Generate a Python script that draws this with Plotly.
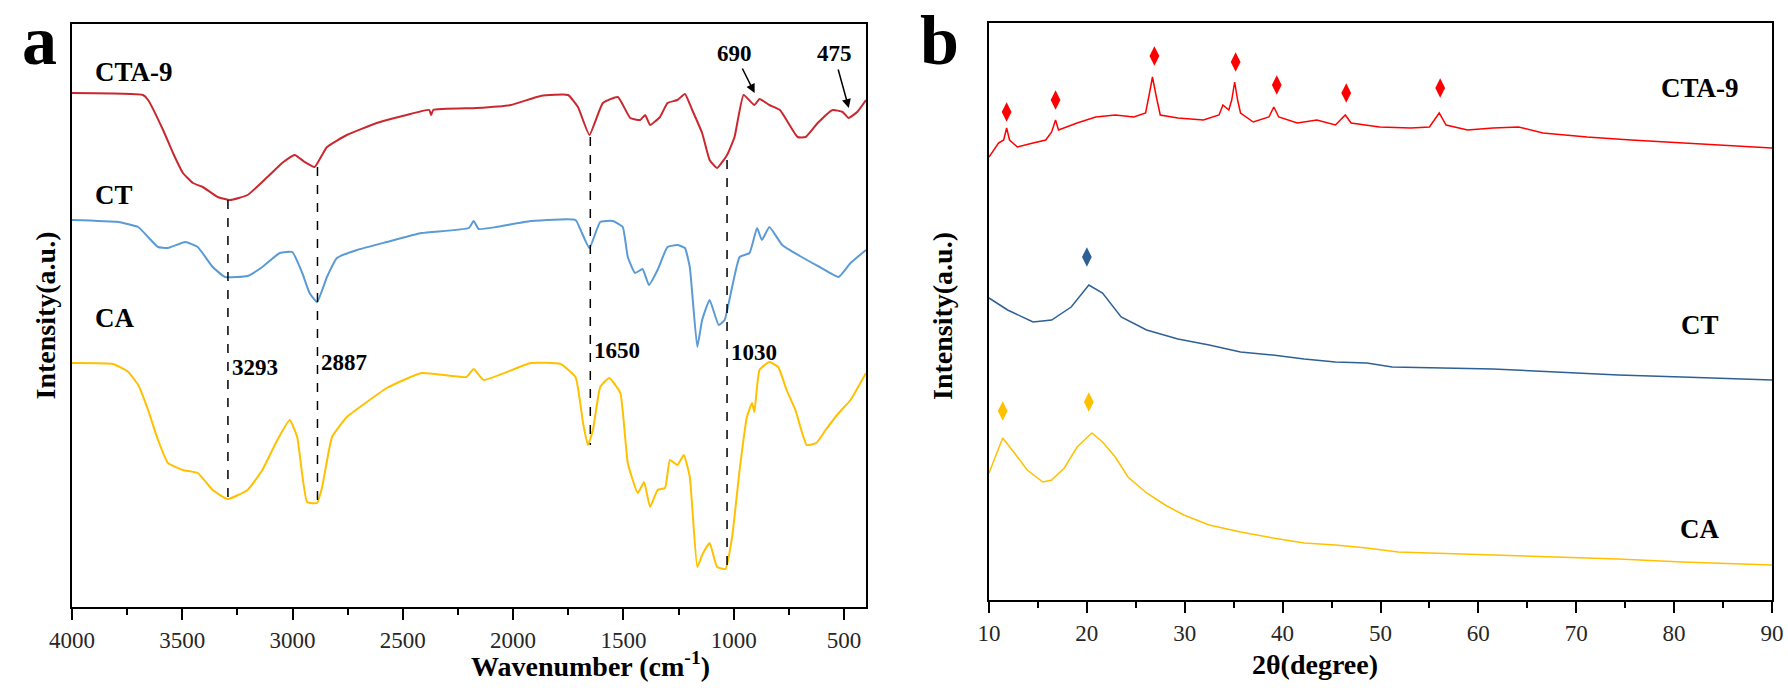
import plotly.graph_objects as go

# ---- (a) FTIR spectra, intensity in arbitrary units ----
cta9_wn = [4000, 3678, 3655, 3587, 3542, 3497, 3452, 3407, 3340, 3283, 3204, 3114, 3047, 2990, 2945, 2900, 2844,
           2754, 2618, 2483, 2380, 2372, 2362, 2167, 2010, 1875, 1751, 1706, 1654, 1593, 1525, 1469, 1424, 1401, 1379,
           1334, 1300, 1255, 1221, 1188, 1143, 1109, 1075, 1030, 996, 955, 906, 883, 838, 790, 710, 674, 619, 551,
           506, 479, 440, 400]
cta9_int = [514, 512, 507, 477, 454, 434, 424, 420, 410, 407, 412, 430, 444, 452, 445, 440, 460,
            472, 484, 492, 497, 492, 497, 499, 502, 511, 512, 500, 472, 504, 510, 489, 487, 492, 482,
            490, 504, 507, 513, 497, 474, 447, 439, 452, 470, 512, 502, 508, 502, 497, 470, 470, 484, 497,
            495, 489, 495, 507]

ct_wn = [4000, 3790, 3700, 3655, 3610, 3565, 3486, 3430, 3362, 3306, 3204, 3137, 3058, 3001, 2956, 2923, 2889,
         2844, 2799, 2708, 2573, 2415, 2201, 2179, 2156, 2077, 1920, 1717, 1694, 1654, 1605, 1548, 1503, 1480,
         1447, 1413, 1384, 1345, 1300, 1255, 1221, 1199, 1165, 1143, 1109, 1068, 1041, 1007, 973, 928, 894, 872,
         838, 780, 700, 610, 524, 470, 400]
ct_int = [387, 385, 380, 370, 360, 359, 365, 360, 340, 330, 331, 340, 354, 355, 334, 314, 305,
          330, 349, 357, 365, 374, 379, 386, 378, 380, 386, 387, 377, 359, 385, 386, 380, 350,
          334, 338, 322, 337, 360, 362, 359, 340, 260, 287, 307, 282, 287, 320, 350, 354, 379, 367,
          380, 362, 351, 340, 330, 344, 357]

ca_wn = [4000, 3813, 3745, 3700, 3655, 3610, 3565, 3497, 3430, 3362, 3294, 3204, 3137, 3069, 3013, 2979, 2934,
         2889, 2866, 2821, 2754, 2663, 2573, 2415, 2212, 2179, 2134, 1920, 1785, 1717, 1683, 1661, 1638, 1605,
         1564, 1514, 1480, 1435, 1406, 1379, 1345, 1311, 1289, 1255, 1226, 1199, 1165, 1143, 1109, 1075, 1037,
         1007, 973, 940, 917, 906, 883, 838, 798, 760, 720, 669, 625, 583, 524, 470, 400]
ca_int = [244, 243, 235, 222, 197, 167, 144, 137, 134, 117, 108, 117, 137, 167, 187, 170, 105,
          104, 120, 170, 190, 205, 219, 234, 230, 238, 227, 244, 243, 230, 184, 162, 177, 220,
          229, 214, 144, 114, 125, 100, 117, 119, 147, 142, 152, 130, 40, 52, 64, 40, 38,
          70, 137, 190, 204, 195, 237, 245, 240, 217, 197, 162, 164, 177, 194, 207, 234]

# dashed marker lines: wavenumber, top and bottom intensity
mark_wn = [3293, 2887, 1650, 1030]
mark_top = [407, 440, 470, 447]
mark_bottom = [108, 104, 162, 38]
mark_label_y = [240, 245, 257, 255]

# ---- (b) XRD patterns ----
cta9_2t = [10, 10.97, 11.5, 11.8, 12.1, 12.9, 14.5, 15.8, 16.4, 16.8, 17.1, 19.0, 20.9, 22.9, 24.8, 26.0, 26.4,
           26.7, 27.1, 27.5, 29.3, 31.9, 33.5, 33.9, 34.5, 34.8, 35.1, 35.4, 35.7, 37.0, 38.6, 39.1, 39.6, 41.5,
           43.5, 45.4, 46.4, 47.0, 49.9, 53.1, 55.0, 56.0, 56.7, 58.9, 61.5, 64.1, 66.6, 71.1, 75.6, 80.8, 85.3, 90]
cta9_xi = [443, 457, 460, 472, 460, 453, 457, 460, 468, 480, 470, 477, 483, 485, 483, 487, 507,
           523, 503, 485, 482, 480, 485, 495, 490, 500, 518, 500, 487, 478, 483, 493, 483, 477,
           480, 475, 485, 477, 473, 472, 473, 487, 475, 470, 472, 473, 467, 463, 460, 457, 455, 452]

ct_2t = [10, 11.9, 14.5, 16.4, 18.4, 20.2, 21.6, 23.5, 26.1, 29.3, 32.5, 35.7, 39.0, 42.2, 45.4, 48.6, 51.2,
         55.0, 61.5, 67.9, 74.3, 80.8, 90]
ct_xi = [302, 290, 278, 280, 293, 315, 307, 283, 270, 261, 255, 248, 245, 241, 238, 237, 233,
         232, 231, 228, 225, 223, 220]

ca_2t = [10, 10.8, 11.4, 12.6, 13.9, 15.5, 16.4, 17.7, 19.0, 20.5, 21.6, 22.9, 24.2, 26.1, 28.0, 29.9, 32.5,
         35.7, 39.0, 42.2, 45.4, 48.6, 51.8, 55.0, 61.5, 67.9, 74.3, 80.8, 90]
ca_xi = [127, 147, 162, 147, 130, 118, 120, 132, 153, 167, 158, 143, 123, 107, 95, 85, 75,
         68, 62, 57, 55, 52, 48, 47, 45, 43, 41, 38, 35]

cta9_peak_2t = [11.8, 16.8, 26.9, 35.2, 39.4, 46.5, 56.1]
cta9_peak_y = [488, 500, 544, 538, 515, 507, 512]
ct_peak_2t = [20.0]
ct_peak_y = [343]
ca_peak_2t = [11.4, 20.2]
ca_peak_y = [189, 198]

FONT = "Liberation Serif"
RED_A, BLUE_A, YEL = "#c8282e", "#5b9bd5", "#ffc000"
RED_B, BLUE_B = "#ff0000", "#2e6095"

fig = go.Figure()

for wn, inten, col in [(cta9_wn, cta9_int, RED_A), (ct_wn, ct_int, BLUE_A), (ca_wn, ca_int, YEL)]:
    fig.add_trace(go.Scatter(x=wn, y=inten, mode="lines", line=dict(color=col, width=2, shape="spline", smoothing=0.4),
                             xaxis="x", yaxis="y", showlegend=False))

for i in range(len(mark_wn)):
    fig.add_trace(go.Scatter(x=[mark_wn[i], mark_wn[i]], y=[mark_top[i], mark_bottom[i]], mode="lines",
                             line=dict(color="black", width=1.5, dash="dash"), xaxis="x", yaxis="y", showlegend=False))

for tt, xi, col in [(cta9_2t, cta9_xi, RED_B), (ct_2t, ct_xi, BLUE_B), (ca_2t, ca_xi, YEL)]:
    fig.add_trace(go.Scatter(x=tt, y=xi, mode="lines", line=dict(color=col, width=1.5),
                             xaxis="x2", yaxis="y2", showlegend=False))

for tt, yy, col in [(cta9_peak_2t, cta9_peak_y, RED_B), (ct_peak_2t, ct_peak_y, BLUE_B), (ca_peak_2t, ca_peak_y, YEL)]:
    fig.add_trace(go.Scatter(x=tt, y=yy, mode="markers", marker=dict(symbol="diamond-tall", size=14, color=col),
                             xaxis="x2", yaxis="y2", showlegend=False))

ann = []
bold = dict(family=FONT, size=27, color="black")
for txt, y in [("CTA-9", 535), ("CT", 412), ("CA", 289)]:
    ann.append(dict(x=3907, y=y, xref="x", yref="y", text="<b>%s</b>" % txt, showarrow=False,
                    xanchor="left", font=bold))
for txt, y in [("CTA-9", 512), ("CT", 275), ("CA", 71)]:
    ann.append(dict(x=82.6, y=y, xref="x2", yref="y2", text="<b>%s</b>" % txt, showarrow=False, font=bold))
for i in range(len(mark_wn)):
    ann.append(dict(x=mark_wn[i], y=mark_label_y[i], xref="x", yref="y", text="<b>%d</b>" % mark_wn[i],
                    showarrow=False, xanchor="left", xshift=2, font=dict(family=FONT, size=23, color="black")))

# arrows for 690 and 475
ann.append(dict(x=905, y=514, ax=964, ay=540, xref="x", yref="y", axref="x", ayref="y", text="",
                showarrow=True, arrowhead=2, arrowsize=1.2, arrowwidth=1.5, arrowcolor="black"))
ann.append(dict(x=478, y=499, ax=528, ay=539, xref="x", yref="y", axref="x", ayref="y", text="",
                showarrow=True, arrowhead=2, arrowsize=1.2, arrowwidth=1.5, arrowcolor="black"))
ann.append(dict(x=996, y=554, xref="x", yref="y", text="<b>690</b>", showarrow=False,
                font=dict(family=FONT, size=23, color="black")))
ann.append(dict(x=542, y=554, xref="x", yref="y", text="<b>475</b>", showarrow=False,
                font=dict(family=FONT, size=23, color="black")))

# panel letters and axis titles
ann.append(dict(x=0.0112, y=1.0, xref="paper", yref="paper", yanchor="top", text="<b>a</b>",
                showarrow=False, font=dict(family=FONT, size=70, color="black")))
ann.append(dict(x=0.5257, y=1.0, xref="paper", yref="paper", yanchor="top", text="<b>b</b>",
                showarrow=False, font=dict(family=FONT, size=70, color="black")))
ann.append(dict(x=469 / 1788, y=1 - 684 / 698, xref="paper", yref="paper",
                text="<b>Wavenumber (cm<sup>-1</sup>)</b>", showarrow=False, font=dict(family=FONT, size=28, color="black")))
ann.append(dict(x=1380 / 1788, y=1 - 682 / 698, xref="paper", yref="paper",
                text="<b>2θ(degree)</b>", showarrow=False, font=dict(family=FONT, size=28, color="black")))
for xp in [27 / 1788, 942 / 1788]:
    ann.append(dict(x=xp, y=1 - 316 / 698, xref="paper", yref="paper", text="<b>Intensity(a.u.)</b>",
                    showarrow=False, textangle=-90, font=dict(family=FONT, size=28, color="black")))

axis_common = dict(showline=True, linecolor="black", linewidth=2, mirror=True, showgrid=False, zeroline=False,
                   automargin=False)
tickfont = dict(family=FONT, size=23, color="#262626")

fig.update_layout(
    width=1788, height=698,
    margin=dict(l=0, r=0, t=0, b=0, pad=0, autoexpand=False),
    paper_bgcolor="white", plot_bgcolor="white",
    annotations=ann,
    xaxis=dict(domain=[72 / 1788, 866 / 1788], range=[4000, 400], tick0=4000, dtick=500, ticks="outside",
               ticklen=11, tickwidth=2, tickcolor="black", tickfont=tickfont,
               minor=dict(dtick=250, ticks="outside", ticklen=6, tickwidth=2, tickcolor="black"),
               anchor="y", **axis_common),
    yaxis=dict(domain=[1 - 607 / 698, 1 - 24 / 698], range=[0, 583], showticklabels=False, ticks="",
               anchor="x", **axis_common),
    xaxis2=dict(domain=[989 / 1788, 1772 / 1788], range=[10, 90], tick0=10, dtick=10, ticks="outside",
                ticklen=11, tickwidth=2, tickcolor="black", tickfont=tickfont,
                minor=dict(dtick=5, ticks="outside", ticklen=6, tickwidth=2, tickcolor="black"),
                anchor="y2", **axis_common),
    yaxis2=dict(domain=[1 - 600 / 698, 1 - 23 / 698], range=[0, 577], showticklabels=False, ticks="",
                anchor="x2", **axis_common),
)

# drop the default page margin so the 1788x698 figure fills the window without scrollbars
fig.write_html("out.html", config={"displayModeBar": False},
               post_script="document.body.style.margin='0';document.body.style.overflow='hidden';")
